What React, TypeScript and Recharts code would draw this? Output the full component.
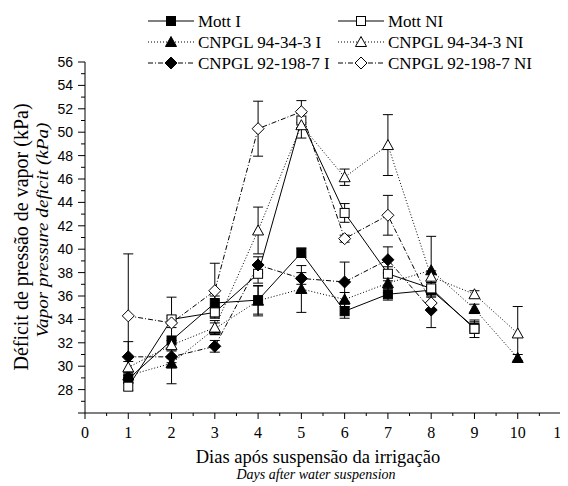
import { LineChart, Line, XAxis, YAxis, ErrorBar, Label } from 'recharts';

// dias após suspensão
const days = [1, 2, 3, 4, 5, 6, 7, 8, 9, 10];

const mottI = [28.9, 32.2, 35.4, 35.65, 39.7, 34.7, 36.15, 36.5, 33.3, null];
const mottNI = [28.25, 34.0, 34.6, 37.9, 51.0, 43.1, 37.9, 36.65, 33.2, null];
const cn94I = [29.2, 30.25, 33.2, 35.6, 36.6, 35.7, 37.1, 38.2, 34.9, 30.7];
const cn94NI = [29.9, 31.8, 33.3, 41.6, 50.6, 46.15, 48.9, 37.65, 36.15, 32.8];
const cn92I = [30.8, 30.8, 31.7, 38.65, 37.5, 37.2, 39.1, 34.8, null, null];
const cn92NI = [34.3, 33.7, 36.45, 50.3, 51.75, 40.9, 42.9, 35.4, null, null];

// desvio (barras de erro)
const mottIErr = [0.3, 3.7, 0.6, 1.2, 0.4, 0.6, 0.5, 0.5, 0.5, null];
const mottNIErr = [0.3, 0.3, 0.4, 0.8, 0.6, 0.8, 0.6, 0.5, 0.75, null];
const cn94IErr = [0.3, 0.4, 0.5, 1.3, 2.0, 0.6, 0.8, 2.9, 0.4, 0.3];
const cn94NIErr = [0.5, 0.4, 0.6, 2.0, 1.1, 0.7, 2.6, 0.5, 0.3, 2.3];
const cn92IErr = [1.3, 0.5, 0.5, 0.7, 0.5, 1.7, 1.1, 1.5, null, null];
const cn92NIErr = [5.3, 0.4, 2.35, 2.35, 0.95, 0.3, 1.7, 0.5, null, null];

const xTicks = [0, 0.5, 1, 1.5, 2, 2.5, 3, 3.5, 4, 4.5, 5, 5.5, 6, 6.5, 7, 7.5, 8, 8.5, 9, 9.5, 10, 10.5, 11];
const yTicks = [26, 27, 28, 29, 30, 31, 32, 33, 34, 35, 36, 37, 38, 39, 40, 41, 42, 43, 44, 45, 46, 47, 48, 49, 50, 51, 52, 53, 54, 55, 56];
const yLabels = [28, 30, 32, 34, 36, 38, 40, 42, 44, 46, 48, 50, 52, 54, 56];

type Shape = 'square' | 'triangle' | 'diamond';

type SeriesDef = {
    key: string;
    name: string;
    values: (number | null)[];
    err: (number | null)[];
    shape: Shape;
    filled: boolean;
    dash?: string;
};

const DOTTED = '1 2';
const DASHDOT = '5 2 1 2';

const series: SeriesDef[] = [
    { key: 'mottI', name: 'Mott I', values: mottI, err: mottIErr, shape: 'square', filled: true },
    { key: 'mottNI', name: 'Mott NI', values: mottNI, err: mottNIErr, shape: 'square', filled: false },
    { key: 'cn94I', name: 'CNPGL 94-34-3 I', values: cn94I, err: cn94IErr, shape: 'triangle', filled: true, dash: DOTTED },
    { key: 'cn94NI', name: 'CNPGL 94-34-3 NI', values: cn94NI, err: cn94NIErr, shape: 'triangle', filled: false, dash: DOTTED },
    { key: 'cn92I', name: 'CNPGL 92-198-7 I', values: cn92I, err: cn92IErr, shape: 'diamond', filled: true, dash: DASHDOT },
    { key: 'cn92NI', name: 'CNPGL 92-198-7 NI', values: cn92NI, err: cn92NIErr, shape: 'diamond', filled: false, dash: DASHDOT },
];

const data = days.map((day, i) => {
    const row: Record<string, number | null> = { day };
    series.forEach((s) => {
        row[s.key] = s.values[i];
        row[s.key + 'Err'] = s.err[i];
    });
    return row;
});

const SERIF = '"Liberation Serif", "Times New Roman", serif';
const SANS = '"Liberation Sans", Arial, sans-serif';

// chart sits at the body's 8px offset, so page coords minus 8
const W = 560;
const H = 478;

const Marker = ({ cx, cy, shape, filled }: { cx: number; cy: number; shape: Shape; filled: boolean }) => {
    const fill = filled ? '#000' : '#fff';
    if (shape === 'square') {
        return <rect x={cx - 4.5} y={cy - 4.5} width={9} height={9} fill={fill} stroke="#000" strokeWidth={1} />;
    }
    if (shape === 'triangle') {
        return (
            <polygon
                points={`${cx},${cy - 5.5} ${cx + 5.5},${cy + 4.5} ${cx - 5.5},${cy + 4.5}`}
                fill={fill}
                stroke="#000"
                strokeWidth={1}
            />
        );
    }
    return (
        <polygon
            points={`${cx},${cy - 6} ${cx + 6},${cy} ${cx},${cy + 6} ${cx - 6},${cy}`}
            fill={fill}
            stroke="#000"
            strokeWidth={1}
        />
    );
};

const XTick = (props: any) => {
    const { x, y, payload } = props;
    const major = Number.isInteger(payload.value);
    return (
        <g>
            <line x1={x} y1={y} x2={x} y2={y + (major ? 6 : 3)} stroke="#000" />
            {major && (
                <text x={x} y={y + 25} textAnchor="middle" fontFamily={SERIF} fontSize={16} fill="#000">
                    {payload.value}
                </text>
            )}
        </g>
    );
};

const YTick = (props: any) => {
    const { x, y, payload } = props;
    const v = payload.value;
    const major = v % 2 === 0;
    return (
        <g>
            <line x1={x} y1={y} x2={x - (major ? 7 : 4)} y2={y} stroke="#000" />
            {yLabels.includes(v) && (
                <text x={x - 12} y={y + 5} textAnchor="end" fontFamily={SANS} fontSize={14} fill="#000">
                    {v}
                </text>
            )}
        </g>
    );
};

const AxisTitles = () => (
    <g>
        <text
            transform="translate(13,229) rotate(-90)"
            textAnchor="middle"
            dominantBaseline="central"
            fontFamily={SERIF}
            fontSize={20}
            fill="#000"
        >
            Déficit de pressão de vapor (kPa)
        </text>
        <text
            transform="translate(34,222) rotate(-90)"
            textAnchor="middle"
            dominantBaseline="central"
            fontFamily={SERIF}
            fontStyle="italic"
            fontSize={16}
            textLength={215}
            lengthAdjust="spacingAndGlyphs"
            fill="#000"
        >
            Vapor pressure deficit (kPa)
        </text>
        <text x={310} y={449} textAnchor="middle" dominantBaseline="central" fontFamily={SERIF} fontSize={18.5} fill="#000">
            Dias após suspensão da irrigação
        </text>
        <text
            x={308}
            y={466}
            textAnchor="middle"
            dominantBaseline="central"
            fontFamily={SERIF}
            fontStyle="italic"
            fontSize={14}
            fill="#000"
        >
            Days after water suspension
        </text>
    </g>
);

const legendRows = [0, 1, 2];

const ChartLegend = () => (
    <svg width={W} height={70} style={{ position: 'absolute', left: 0, top: 0 }}>
        {legendRows.map((r) =>
            [0, 1].map((c) => {
                const s = series[r * 2 + c];
                const y = 13 + r * 21;
                const x0 = c === 0 ? 140 : 330;
                return (
                    <g key={s.key}>
                        <line x1={x0} y1={y} x2={x0 + 46} y2={y} stroke="#000" strokeDasharray={s.dash} />
                        <Marker cx={x0 + 23} cy={y} shape={s.shape} filled={s.filled} />
                        <text x={x0 + 50} y={y + 5.5} fontFamily={SERIF} fontSize={17} fill="#000">
                            {s.name}
                        </text>
                    </g>
                );
            })
        )}
    </svg>
);

export default function App() {
    return (
        <div style={{ position: 'relative', width: W, height: H }}>
            <LineChart width={W} height={H} data={data} margin={{ top: 54, right: 7, bottom: 0, left: 0 }}>
                <XAxis
                    dataKey="day"
                    type="number"
                    domain={[0, 11]}
                    ticks={xTicks}
                    interval={0}
                    height={73}
                    tickSize={0}
                    tickMargin={0}
                    tickLine={false}
                    axisLine={{ stroke: '#000', strokeWidth: 1 }}
                    tick={XTick}
                />
                <YAxis
                    type="number"
                    domain={[26, 56]}
                    ticks={yTicks}
                    interval={0}
                    width={77}
                    tickSize={0}
                    tickMargin={0}
                    tickLine={false}
                    axisLine={{ stroke: '#000', strokeWidth: 1 }}
                    tick={YTick}
                >
                    <Label content={AxisTitles} />
                </YAxis>
                {series.map((s) => (
                    <Line
                        key={s.key}
                        dataKey={s.key}
                        name={s.name}
                        stroke="#000"
                        strokeWidth={1}
                        strokeDasharray={s.dash}
                        isAnimationActive={false}
                        activeDot={false}
                        dot={(p: any) =>
                            p.cx == null || p.cy == null ? (
                                <g key={`${s.key}-${p.index}`} />
                            ) : (
                                <Marker key={`${s.key}-${p.index}`} cx={p.cx} cy={p.cy} shape={s.shape} filled={s.filled} />
                            )
                        }
                    >
                        <ErrorBar dataKey={s.key + 'Err'} direction="y" width={5} stroke="#000" strokeWidth={1} />
                    </Line>
                ))}
            </LineChart>
            <ChartLegend />
        </div>
    );
}
